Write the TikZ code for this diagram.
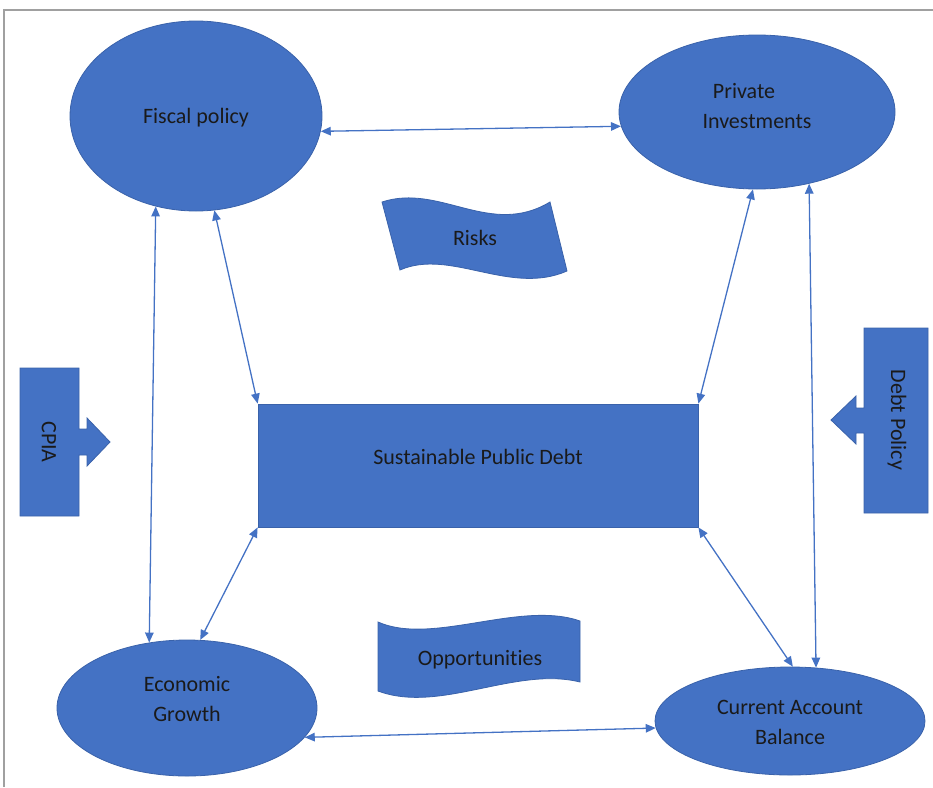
\documentclass[tikz,border=0pt]{standalone}
\usepackage{fontspec}
\setmainfont{Carlito}[Ligatures=NoCommon]
\usetikzlibrary{shapes.geometric,arrows.meta}
\definecolor{cfill}{HTML}{4472C4}
\definecolor{cedge}{HTML}{3A62AA}
\definecolor{ctext}{HTML}{1A1A1A}
\definecolor{cframe}{HTML}{A0A0A0}
\newcommand{\liftlines}[2]{\raisebox{#1}[\height][\depth]{\begin{tabular}{@{}c@{}}#2\end{tabular}}}
\newcommand{\liftone}[2]{\raisebox{#1}[\height][\depth]{#2}}
\tikzset{
  ell/.style={ellipse, fill=cfill, draw=cedge, line width=0.8pt, inner sep=0pt,
    text=ctext, align=center, font=\fontsize{22}{30}\selectfont},
  boxshape/.style={rectangle, fill=cfill, draw=cedge, line width=0.8pt, inner sep=0pt,
    text=ctext, font=\fontsize{22}{30}\selectfont},
  shapefill/.style={fill=cfill, draw=cedge, line width=0.8pt},
  lbl/.style={text=ctext, inner sep=0pt, font=\fontsize{22}{30}\selectfont},
  link/.style={draw=cfill, line width=1.3pt,
    {Triangle[length=10pt,width=8.5pt]}-{Triangle[length=10pt,width=8.5pt]}},
}
\begin{document}
\begin{tikzpicture}[x=1pt,y=-1pt]
\useasboundingbox (0,0) rectangle (933,787);
% frame lines
\draw[cframe, line width=1.5pt] (4,787) -- (4,10) -- (933,10);

% main nodes
\node[ell, minimum width=252pt, minimum height=190pt] (fiscal) at (196,116) {\liftone{-2pt}{Fiscal policy}};
\node[ell, minimum width=276pt, minimum height=154pt] (private) at (757,112) {\liftlines{5pt}{Private\hspace*{26pt}\\Investments}};
\node[ell, minimum width=260pt, minimum height=136pt] (growth) at (187,708) {\liftlines{8pt}{Economic\\Growth}};
\node[ell, minimum width=270pt, minimum height=108pt] (current) at (790,721) {\liftlines{-2pt}{Current Account\\Balance}};
\node[boxshape, minimum width=440pt, minimum height=123pt] (debt) at (478,465.5) {\liftone{9pt}{Sustainable Public Debt}};

% Risks wave
\path[shapefill] (382,202) .. controls (440,183) and (490,238) .. (550,202)
  -- (567,271) .. controls (510,296) and (450,248) .. (400,270) -- cycle;
\node[lbl] (risks) at (475,238) {Risks};

% Opportunities wave
\path[shapefill] (378,622) .. controls (432,646) and (520,600) .. (580,621)
  -- (580,682) .. controls (515,666) and (440,714) .. (378,691) -- cycle;
\node[lbl] (opp) at (480,660) {Opportunities};

% CPIA callout
\path[shapefill] (20,368) -- (79,368) -- (79,429) -- (87,429) -- (87,418) -- (110,442)
  -- (87,466) -- (87,455) -- (79,455) -- (79,516) -- (20,516) -- cycle;
\node[lbl, rotate=-90] (cpia) at (49,442) {CPIA};

% Debt Policy callout
\path[shapefill] (864,328) -- (928,328) -- (928,513) -- (864,513) -- (864,433) -- (856,433)
  -- (856,444) -- (831,420) -- (856,396) -- (856,408) -- (864,408) -- cycle;
\node[lbl, rotate=-90] (dpol) at (897,420) {Debt Policy};

% connectors
\draw[link] (fiscal.-7.8) -- (private.186.3);
\draw[link] (fiscal.-114.5) -- (growth.120.3);
\draw[link] (fiscal.-79.2) -- (debt.north west);
\draw[link] (private.-93) -- (debt.north east);
\draw[link] (private.-54.5) -- (current.64.8);
\draw[link] (debt.south west) -- (growth.79.1);
\draw[link] (debt.south east) -- (current.87.9);
\draw[link] (growth.-14.3) -- (current.183.8);
\end{tikzpicture}
\end{document}
